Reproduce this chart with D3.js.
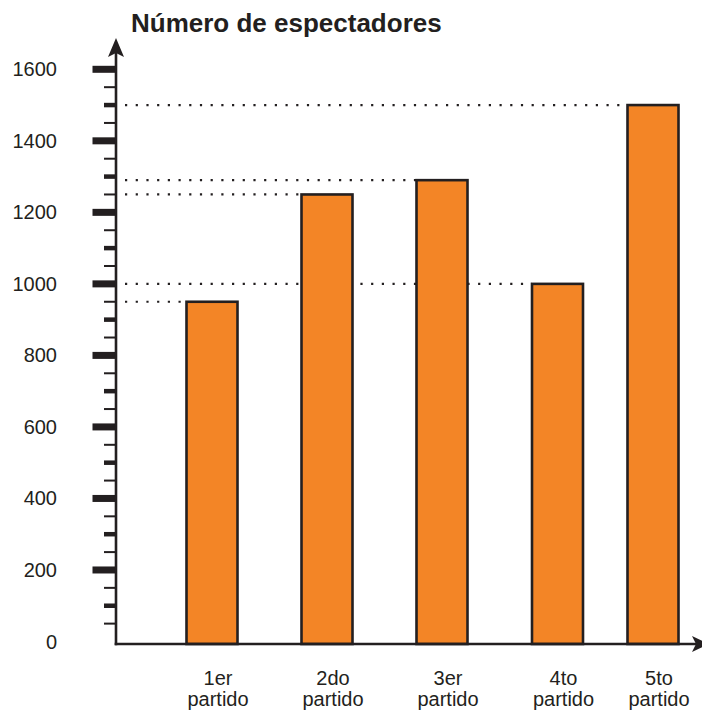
<!DOCTYPE html>
<html><head><meta charset="utf-8">
<script src="https://cdn.jsdelivr.net/npm/d3@7"></script>
<style>html,body{margin:0;padding:0;background:#fff}svg{display:block}</style>
</head><body>
<script>
const categories = ["1er partido","2do partido","3er partido","4to partido","5to partido"];
const values = [950, 1250, 1290, 1000, 1500];
const tickValues = [0,200,400,600,800,1000,1200,1400,1600];
const title = "Número de espectadores";

const W = 702, H = 711;
const ink = "#231f20", orange = "#f38526";
const font = "'Liberation Sans', Arial, Helvetica, sans-serif";
const svg = d3.select("body").append("svg").attr("width", W).attr("height", H);

const axisX = 116, axisY = 644;
const y = d3.scaleLinear().domain([0,1600]).range([641.5, 69.3]);
const x = d3.scaleOrdinal().domain(categories).range([212, 327, 442, 557.5, 653]);
const barW = 51;

// dotted guide lines
svg.append("g").selectAll("line").data(values).join("line")
  .attr("x1", axisX + 9).attr("x2", (d,i) => x(categories[i]) - barW/2)
  .attr("y1", d => y(d)).attr("y2", d => y(d))
  .attr("stroke", ink).attr("stroke-width", 2.2)
  .attr("stroke-dasharray", "2.2,8.5");

// bars
svg.append("g").selectAll("rect").data(values).join("rect")
  .attr("x", (d,i) => x(categories[i]) - barW/2)
  .attr("width", barW)
  .attr("y", d => y(d))
  .attr("height", d => axisY - y(d))
  .attr("fill", orange).attr("stroke", ink).attr("stroke-width", 2.6);

// ticks every 50 (none at 0)
const minor = d3.range(50, 1601, 50);
const tickH = d => d % 200 === 0 ? 7 : (d % 100 === 0 ? 4.5 : 2);
svg.append("g").selectAll("rect").data(minor).join("rect")
  .attr("x", d => d % 200 === 0 ? 92.5 : 104)
  .attr("width", d => d % 200 === 0 ? axisX - 92.5 : axisX - 104)
  .attr("y", d => y(d) - tickH(d)/2)
  .attr("height", tickH)
  .attr("fill", ink);

// y axis line + arrow
svg.append("line").attr("x1", axisX).attr("x2", axisX).attr("y1", axisY + 1.3).attr("y2", 50)
  .attr("stroke", ink).attr("stroke-width", 2.6);
svg.append("path").attr("d", `M${axisX},38 L${axisX-8},57 L${axisX},53 L${axisX+8},57 Z`)
  .attr("fill", ink);

// x axis line + arrow
svg.append("line").attr("x1", axisX - 1.3).attr("x2", 700).attr("y1", axisY).attr("y2", axisY)
  .attr("stroke", ink).attr("stroke-width", 2.6);
svg.append("path").attr("d", `M709,${axisY} L692,${axisY-8} L696,${axisY} L692,${axisY+8} Z`)
  .attr("fill", ink);

// y tick labels
svg.append("g").selectAll("text").data(tickValues).join("text")
  .attr("x", 57).attr("y", d => y(d)).attr("dy", "0.35em")
  .attr("text-anchor", "end")
  .attr("font-family", font).attr("font-size", 20).attr("fill", ink)
  .text(d => d);

// category labels
const lab = svg.append("g").selectAll("text").data(categories).join("text")
  .attr("text-anchor", "middle")
  .attr("font-family", font).attr("font-size", 20).attr("fill", ink);
lab.each(function(d){
  const parts = d.split(" ");
  const t = d3.select(this);
  parts.forEach((p,k) => {
    t.append("tspan").attr("x", x(d) + 6).attr("y", 685 + k*21).text(p);
  });
});

// title
svg.append("text").attr("x", 131).attr("y", 32)
  .attr("font-family", font).attr("font-size", 26).attr("font-weight", "bold")
  .attr("fill", ink).text(title);
</script>
</body></html>
